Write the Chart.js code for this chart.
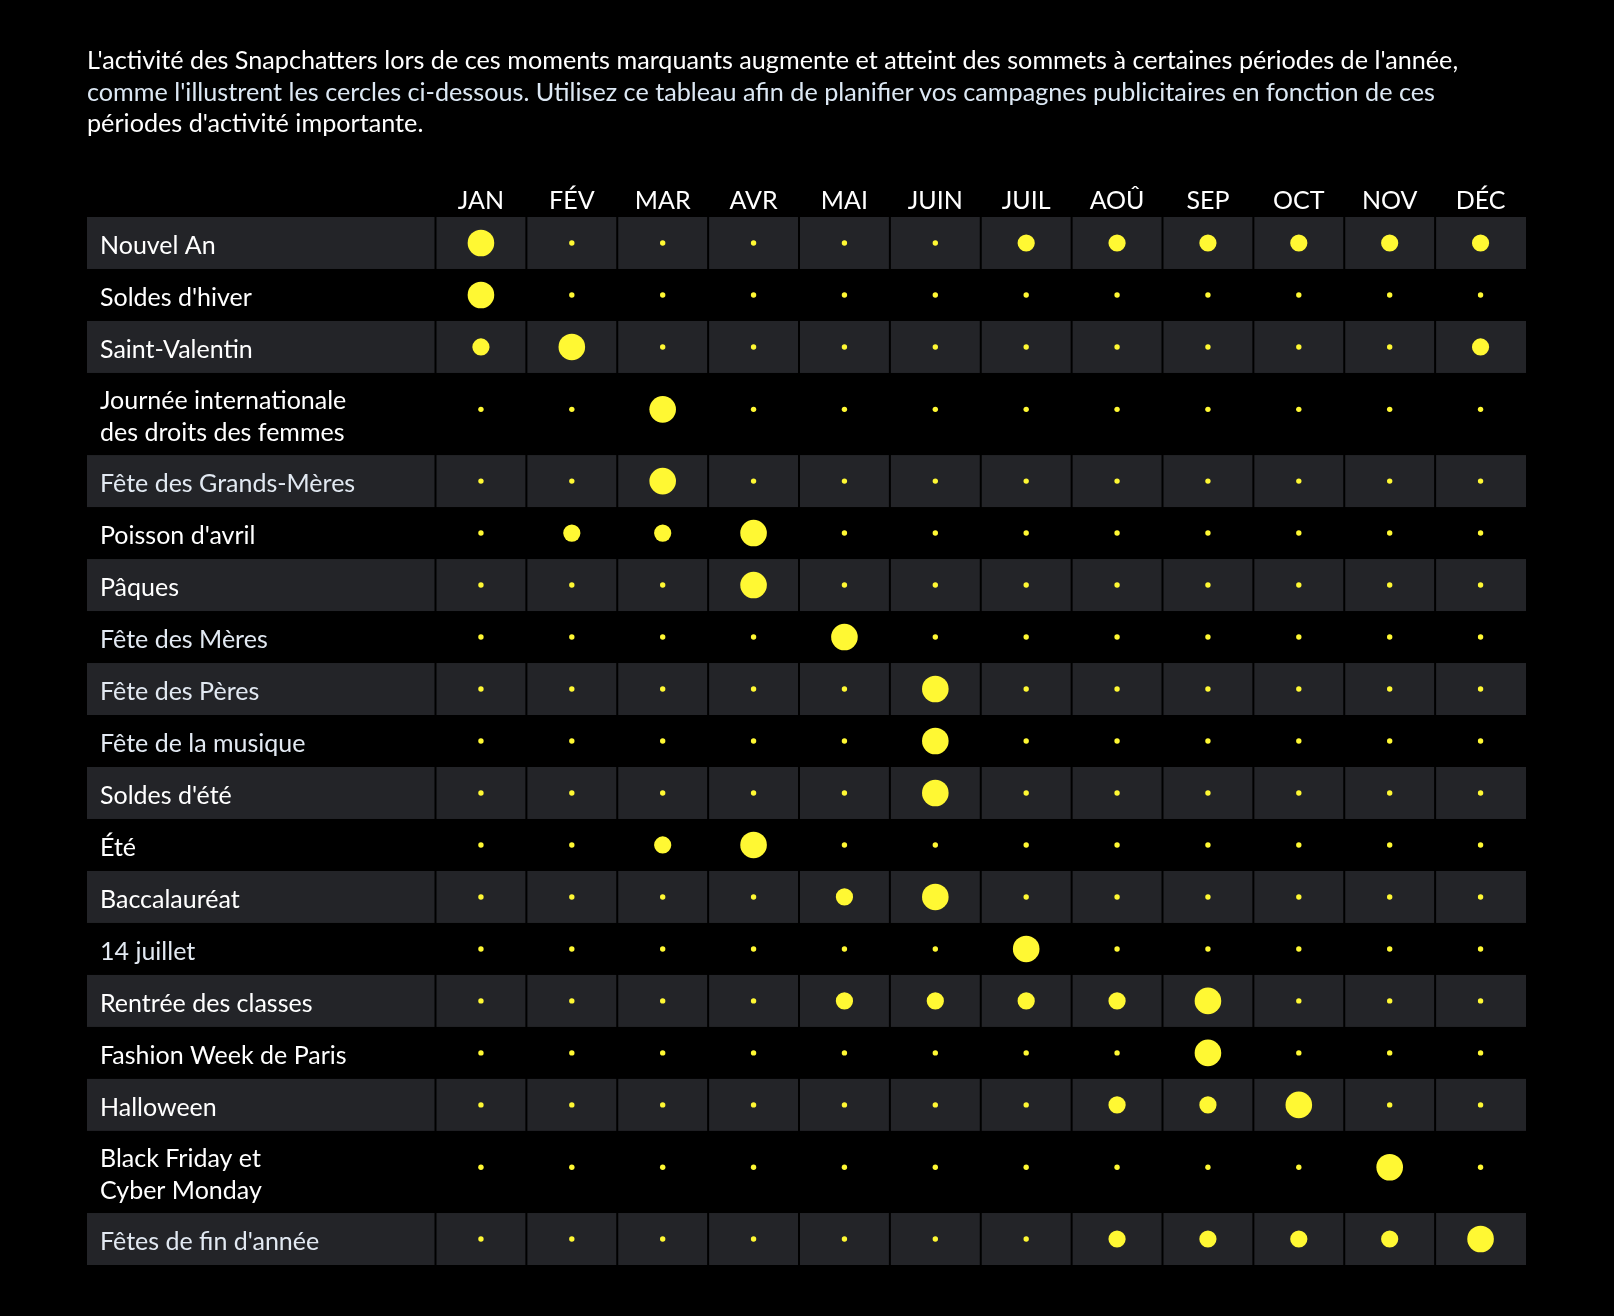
<!DOCTYPE html>
<html lang="fr">
<head>
<meta charset="utf-8">
<title>Moments marquants — activité des Snapchatters</title>
<script src="https://cdn.jsdelivr.net/npm/chart.js@4/dist/chart.umd.min.js"></script>
<style>
  html, body { margin: 0; padding: 0; background: #000; }
  body { width: 1614px; height: 1316px; position: relative; overflow: hidden; font-family: Lato, "Noto Sans", sans-serif; }
  #intro { position: absolute; left: 87px; top: 44px; margin: 0; z-index: 1;
           font-size: 25.2px; line-height: 31.7px; color: #fff; white-space: nowrap; }
  #intro .soft { color: #dce8f4; }
  #calendar { position: absolute; left: 0; top: 0; }
</style>
</head>
<body>
<p id="intro">L'activité des Snapchatters lors de ces moments marquants augmente et atteint des sommets à certaines périodes de l'année,<br><span class="soft">comme l'illustrent les cercles ci-dessous. Utilisez ce tableau afin de planifier vos campagnes publicitaires en fonction de ces</span><br>périodes d'activité importante.</p>
<canvas id="calendar" width="1614" height="1316"></canvas>
<script>
/* =================================================================
   Calendrier des moments marquants — un cercle par mois et par
   événement, sa taille donne le niveau d'activité.
================================================================= */

// ── Data ───────────────────────────────────────

const MONTHS = ['JAN', 'FÉV', 'MAR', 'AVR', 'MAI', 'JUIN', 'JUIL', 'AOÛ', 'SEP', 'OCT', 'NOV', 'DÉC'];

const MOMENTS = [
  'Nouvel An',
  "Soldes d'hiver",
  'Saint-Valentin',
  'Journée internationale\ndes droits des femmes',
  'Fête des Grands-Mères',
  "Poisson d'avril",
  'Pâques',
  'Fête des Mères',
  'Fête des Pères',
  'Fête de la musique',
  "Soldes d'été",
  'Été',
  'Baccalauréat',
  '14 juillet',
  'Rentrée des classes',
  'Fashion Week de Paris',
  'Halloween',
  'Black Friday et\nCyber Monday',
  "Fêtes de fin d'année",
];

// activity level per month: 0 = normal, 1 = hausse, 2 = pic
const ACTIVITY = [
  [2, 0, 0, 0, 0, 0, 1, 1, 1, 1, 1, 1],
  [2, 0, 0, 0, 0, 0, 0, 0, 0, 0, 0, 0],
  [1, 2, 0, 0, 0, 0, 0, 0, 0, 0, 0, 1],
  [0, 0, 2, 0, 0, 0, 0, 0, 0, 0, 0, 0],
  [0, 0, 2, 0, 0, 0, 0, 0, 0, 0, 0, 0],
  [0, 1, 1, 2, 0, 0, 0, 0, 0, 0, 0, 0],
  [0, 0, 0, 2, 0, 0, 0, 0, 0, 0, 0, 0],
  [0, 0, 0, 0, 2, 0, 0, 0, 0, 0, 0, 0],
  [0, 0, 0, 0, 0, 2, 0, 0, 0, 0, 0, 0],
  [0, 0, 0, 0, 0, 2, 0, 0, 0, 0, 0, 0],
  [0, 0, 0, 0, 0, 2, 0, 0, 0, 0, 0, 0],
  [0, 0, 1, 2, 0, 0, 0, 0, 0, 0, 0, 0],
  [0, 0, 0, 0, 1, 2, 0, 0, 0, 0, 0, 0],
  [0, 0, 0, 0, 0, 0, 2, 0, 0, 0, 0, 0],
  [0, 0, 0, 0, 1, 1, 1, 1, 2, 0, 0, 0],
  [0, 0, 0, 0, 0, 0, 0, 0, 2, 0, 0, 0],
  [0, 0, 0, 0, 0, 0, 0, 1, 1, 2, 0, 0],
  [0, 0, 0, 0, 0, 0, 0, 0, 0, 0, 2, 0],
  [0, 0, 0, 0, 0, 0, 0, 1, 1, 1, 1, 2],
];

// ── Look ───────────────────────────────────────

const DOT_COLOR   = '#fff833';
const CELL_FILL   = '#232428';
const DOT_RADIUS  = [2.7, 8.6, 13.3];      // px, by activity level
const LABEL_UNITS = 3.835;                  // width of the label column, in month columns
const DOUBLE_ROW  = 1.58;                   // height of a two-line row, in single rows
const LIGHT_ROWS  = [4, 7, 8, 9, 13, 18];   // labels rendered a touch lighter
const FONT        = { family: 'Lato, "Noto Sans", sans-serif', size: 25 };

// ── Row geometry (in row units) ────────────────

const rowHeights = MOMENTS.map((m) => (m.includes('\n') ? DOUBLE_ROW : 1));
const rowTops = [];
let totalRows = 0;
rowHeights.forEach((h) => { rowTops.push(totalRows); totalRows += h; });
const rowCentres = rowTops.map((t, i) => t + rowHeights[i] / 2);
const rowDotY    = rowTops.map((t, i) => t + Math.min(rowHeights[i] / 2, 0.7));

const points = [];
ACTIVITY.forEach((row, r) => row.forEach((lvl, m) => {
  points.push({ x: m + 0.5, y: rowDotY[r], r: DOT_RADIUS[lvl] });
}));

// ── Table cells, painted before the axes ───────

const cellPlugin = {
  id: 'cells',
  beforeDraw(chart) {
    const { ctx, scales: { x, y } } = chart;
    const edges = [-LABEL_UNITS, ...MONTHS.map((_, i) => i), MONTHS.length];
    ctx.save();
    ctx.fillStyle = CELL_FILL;
    rowTops.forEach((top, r) => {
      if (r % 2) return;
      const y0 = y.getPixelForValue(top);
      const y1 = y.getPixelForValue(top + rowHeights[r]);
      for (let c = 0; c < edges.length - 1; c++) {
        const x0 = x.getPixelForValue(edges[c]) + (c ? 1 : 0);
        const x1 = x.getPixelForValue(edges[c + 1]) - (c < edges.length - 2 ? 1 : 0);
        ctx.fillRect(x0, y0, x1 - x0, y1 - y0);
      }
    });
    ctx.restore();
  },
};

// ── Chart ──────────────────────────────────────

new Chart(document.getElementById('calendar'), {
  type: 'bubble',
  data: {
    datasets: [{
      data: points,
      backgroundColor: DOT_COLOR,
      borderWidth: 0,
      hoverRadius: 0,
    }],
  },
  options: {
    responsive: false,
    animation: false,
    events: [],
    layout: { padding: { left: 87, right: 88, top: 150, bottom: 51 } },
    plugins: { legend: { display: false }, tooltip: { enabled: false } },
    scales: {
      x: {
        type: 'linear',
        position: 'top',
        bounds: 'data',
        min: -LABEL_UNITS,
        max: MONTHS.length,
        grid: { display: false },
        border: { display: false },
        afterFit: (scale) => { scale.height = 67; },
        afterBuildTicks: (scale) => { scale.ticks = MONTHS.map((_, i) => ({ value: i + 0.5 })); },
        ticks: {
          autoSkip: false,
          maxRotation: 0,
          padding: -7,
          color: '#fff',
          font: { ...FONT, lineHeight: 1.2 },
          callback: (v, i) => MONTHS[i],
        },
      },
      y: {
        type: 'linear',
        reverse: true,
        bounds: 'data',
        min: 0,
        max: totalRows,
        grid: { display: false },
        border: { display: false },
        afterFit: (scale) => { scale.width = 0; },
        afterBuildTicks: (scale) => { scale.ticks = rowCentres.map((v) => ({ value: v })); },
        ticks: {
          autoSkip: false,
          mirror: true,
          padding: 13,
          labelOffset: 3,
          color: (ctx) => (LIGHT_ROWS.includes(ctx.index) ? '#e2e9f2' : '#fff'),
          font: { ...FONT, lineHeight: 1.27 },
          callback: (v, i) => MOMENTS[i].split('\n'),
        },
      },
    },
  },
  plugins: [cellPlugin],
});
</script>
</body>
</html>
